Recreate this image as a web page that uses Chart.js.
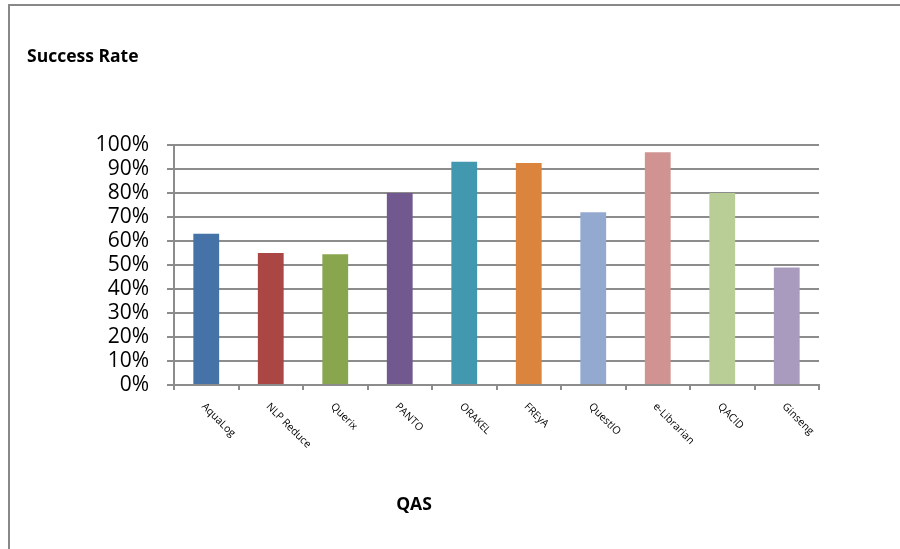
<!DOCTYPE html>
<html>
<head>
<meta charset="utf-8">
<script src="https://cdn.jsdelivr.net/npm/chart.js@4"></script>
<style>
  html, body { margin: 0; padding: 0; background: #fff; }
  canvas { display: block; }
</style>
</head>
<body>
<canvas id="chart" width="900" height="549"></canvas>
<script>
// systems on the x axis
const systems = ['AquaLog', 'NLP Reduce', 'Querix', 'PANTO', 'ORAKEL', 'FREyA', 'QuestIO', 'e-Librarian', 'QACID', 'Ginseng'];
// success rate in percent
const successRate = [63, 55, 54.5, 80, 93, 92.5, 72, 97, 80, 49];
// one colour per bar (office 2007 palette)
const barColors = ['#4572A7', '#AA4643', '#89A54E', '#71588F', '#4198AF', '#DB843D', '#93A9CF', '#D19392', '#B9CD96', '#A99BBD'];
const yTicks = [0, 10, 20, 30, 40, 50, 60, 70, 80, 90, 100];

const chartTitle = 'Success Rate';
const xTitle = 'QAS';

const GRID = '#8c8c8c';
const FONT = "'Open Sans', 'DejaVu Sans', sans-serif";

// frame, titles and rotated category labels
const decorations = {
    id: 'decorations',
    beforeDraw(chart) {
        const ctx = chart.ctx;
        ctx.save();
        ctx.fillStyle = '#fff';
        ctx.fillRect(0, 0, chart.width, chart.height);
        ctx.strokeStyle = '#888';
        ctx.lineWidth = 2;
        ctx.beginPath();
        ctx.moveTo(9, chart.height);
        ctx.lineTo(9, 5);
        ctx.lineTo(chart.width, 5);
        ctx.stroke();
        ctx.restore();
    },
    afterDraw(chart) {
        const ctx = chart.ctx;
        const x = chart.scales.x;
        ctx.save();
        ctx.fillStyle = '#000';
        ctx.font = 'bold 17.5px ' + FONT;
        ctx.textBaseline = 'alphabetic';
        ctx.textAlign = 'left';
        ctx.fillText(chartTitle, 27, 62);
        ctx.textAlign = 'center';
        ctx.fillText(xTitle, 414, 510);

        ctx.font = '10.5px ' + FONT;
        ctx.textAlign = 'left';
        ctx.textBaseline = 'middle';
        systems.forEach((name, i) => {
            const px = x.getPixelForTick(i);
            ctx.save();
            ctx.translate(px - 3, 405);
            ctx.rotate(Math.PI / 4);
            ctx.fillText(name, 0, 0);
            ctx.restore();
        });
        ctx.restore();
    }
};

new Chart(document.getElementById('chart'), {
    type: 'bar',
    data: {
        labels: systems,
        datasets: [{
            label: chartTitle,
            data: successRate,
            backgroundColor: barColors,
            borderWidth: 0,
            categoryPercentage: 1,
            barPercentage: 0.4
        }]
    },
    options: {
        responsive: false,
        animation: false,
        layout: { padding: { top: 145, right: 81, left: 0, bottom: 0 } },
        plugins: {
            legend: { display: false },
            title: { display: false },
            tooltip: { enabled: false }
        },
        scales: {
            x: {
                afterFit(scale) { scale.height = 164; },
                grid: { display: true, drawOnChartArea: false, drawTicks: true, tickLength: 5, color: GRID, lineWidth: 2, offset: true },
                border: { display: true, color: GRID, width: 2 },
                ticks: { display: false }
            },
            y: {
                min: 0,
                max: 100,
                afterFit(scale) { scale.width = 174; },
                afterBuildTicks(scale) { scale.ticks = yTicks.map(v => ({ value: v })); },
                grid: { color: GRID, lineWidth: 2, drawTicks: true, tickLength: 7 },
                border: { display: true, color: GRID, width: 2 },
                ticks: {
                    autoSkip: false,
                    padding: 18,
                    color: '#000',
                    font: { family: FONT, size: 21 },
                    callback: v => v + '%'
                }
            }
        }
    },
    plugins: [decorations]
});
</script>
</body>
</html>
